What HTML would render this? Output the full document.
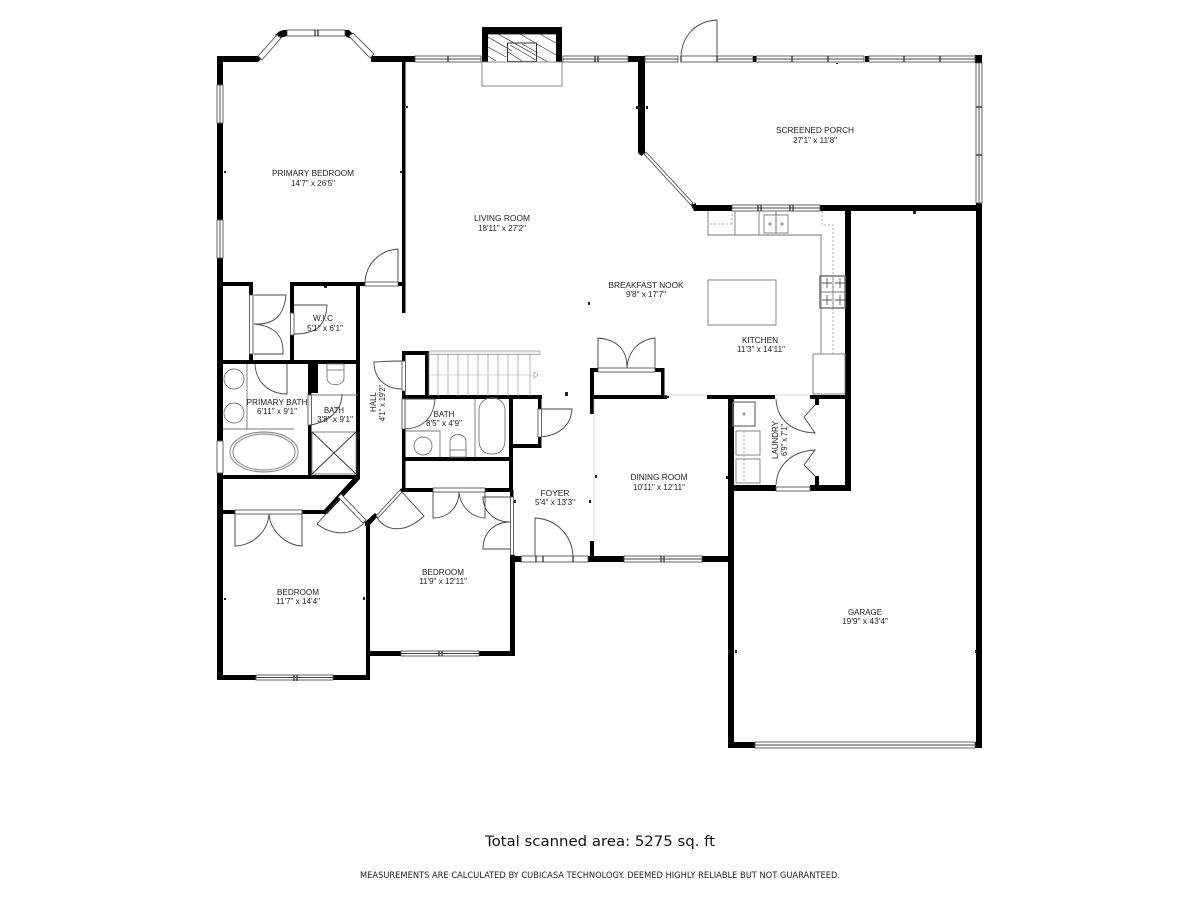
<!DOCTYPE html>
<html><head><meta charset="utf-8"><style>
html,body{margin:0;padding:0;background:#fff}
svg{display:block;filter:blur(.3px)}
.k{fill:#000}
.w{fill:#fff;stroke:#555;stroke-width:.9}
.l{stroke:#999;stroke-width:.7;fill:none}
.g{stroke:#444;stroke-width:.9;fill:none}
.gd{stroke:#777;stroke-width:.9;fill:none}
.d{stroke:#999;stroke-width:.8;fill:none;stroke-dasharray:2 2}
.h{stroke:#333;stroke-width:.7;fill:none}
text{font-family:"Liberation Sans",sans-serif;fill:#222;text-anchor:middle}
.n{font-size:8.500px}
.s{font-size:8px}
</style></head><body>
<svg width="1200" height="900" viewBox="0 0 1200 900" xmlns="http://www.w3.org/2000/svg">
<rect width="1200" height="900" fill="#fff"/>

<!-- black walls -->
<g class="k">
<rect x="217" y="56" width="6" height="624"/>
<rect x="217" y="56" width="41" height="6"/>
<polygon points="258,56 262,58 258,62"/>
<rect x="371" y="56" width="44" height="6"/>
<rect x="402" y="62" width="3.500" height="251"/>
<polygon points="280,31 284,30 287,30 287,36 280,38 275,35"/>
<polygon points="345,30 349,30 354,35 349,38 345,36"/>
<!-- fireplace -->
<path d="M482,27h80v35h-6v-28h-68v28h-6z"/>
<rect x="628" y="56" width="17" height="6"/>
<rect x="638" y="62" width="7" height="91"/>
<polygon points="638,153 641.500,156 645,153"/>
<rect x="975" y="55" width="7" height="8"/>
<polygon points="691,205 696,203 696,211 694,211"/>
<rect x="695" y="205" width="37" height="6"/>
<rect x="820" y="205" width="162" height="6"/>
<rect x="845" y="211" width="6" height="280"/>
<rect x="976" y="203" width="6" height="545"/>
<rect x="728" y="395" width="6" height="353"/>
<rect x="728" y="742" width="27" height="6"/>
<rect x="975" y="742" width="7" height="6"/>
<!-- laundry -->
<rect x="707" y="395" width="68" height="4"/>
<rect x="810" y="395" width="41" height="4"/>
<rect x="734" y="485" width="42" height="6"/>
<rect x="810" y="485" width="41" height="6"/>
<rect x="815" y="399" width="4" height="6"/>
<rect x="815" y="476" width="4" height="9"/>
<!-- dining -->
<rect x="590" y="368" width="4" height="46"/>
<rect x="590" y="368" width="8" height="4"/>
<rect x="655" y="368" width="9" height="4"/>
<rect x="661" y="368" width="3.500" height="31"/>
<rect x="590" y="395" width="77" height="4"/>
<rect x="590" y="541" width="4" height="21"/>
<rect x="588" y="556" width="36" height="6"/>
<rect x="702" y="556" width="26" height="6"/>
<!-- stairs block / bath -->
<rect x="402" y="351" width="27" height="4"/>
<rect x="425" y="351" width="4" height="45"/>
<rect x="402" y="351" width="3.500" height="10"/>
<rect x="402" y="391" width="3.500" height="100"/>
<rect x="402" y="395" width="140" height="4"/>
<rect x="509" y="395" width="4" height="95"/>
<rect x="538" y="395" width="3.500" height="14"/>
<rect x="538" y="437" width="3.500" height="11"/>
<rect x="510" y="444" width="31" height="4"/>
<rect x="402" y="457" width="110" height="4"/>
<rect x="402" y="488" width="31" height="4"/>
<rect x="485" y="488" width="28" height="4"/>
<rect x="510" y="490" width="3.500" height="7"/>
<rect x="510" y="555" width="5" height="100"/>
<rect x="515" y="556" width="6" height="6"/>
<rect x="369" y="651" width="32" height="5"/>
<rect x="479" y="651" width="36" height="5"/>
<rect x="366" y="523" width="4" height="157"/>
<rect x="217" y="675" width="39" height="5"/>
<rect x="333" y="675" width="37" height="5"/>
<rect x="223" y="510" width="12" height="4"/>
<rect x="302" y="510" width="24" height="4"/>
<polygon points="324,510 356,475 360,475 360,479 327,514 324,514"/>
<polygon points="365,522 375,513 378,516 369,526 365,526"/>
<polygon points="400,489 403,488 403,492 400,492"/>
<!-- primary suite -->
<rect x="223" y="282" width="30" height="4"/>
<rect x="249" y="282" width="4" height="13"/>
<rect x="249" y="354" width="4" height="10"/>
<rect x="223" y="360" width="137" height="4"/>
<rect x="290" y="282" width="4" height="31"/>
<rect x="290" y="335" width="4" height="27"/>
<rect x="290" y="282" width="75" height="4"/>
<rect x="356" y="282" width="4" height="197"/>
<rect x="398" y="282" width="7" height="4"/>
<rect x="308" y="364" width="10" height="29"/>
<rect x="308" y="393" width="3.500" height="2"/>
<rect x="308" y="425" width="3.500" height="54"/>
<rect x="217" y="475" width="143" height="4"/>
</g>

<!-- windows -->
<g class="w">
<polygon points="258,56 277,35 281,38 262,60"/>
<rect x="287" y="30" width="58" height="6"/>
<polygon points="349,36 353,33 374,54 370,58"/>
<rect x="415" y="56" width="66" height="6"/>
<rect x="563" y="56" width="65" height="6"/>
<rect x="645" y="56" width="33" height="6"/>
<rect x="681" y="56" width="36" height="6"/>
<rect x="717" y="56" width="36" height="6"/>
<rect x="756" y="56" width="36" height="6"/>
<rect x="792" y="56" width="36" height="6"/>
<rect x="828" y="56" width="36" height="6"/>
<rect x="869" y="56" width="35" height="6"/>
<rect x="904" y="56" width="36" height="6"/>
<rect x="940" y="56" width="35" height="6"/>
<rect x="976" y="63" width="6" height="140"/>
<rect x="217" y="85" width="6" height="38"/>
<rect x="217" y="220" width="6" height="38"/>
<rect x="217" y="441" width="6" height="32"/>
<rect x="732" y="205" width="88" height="6"/>
<rect x="755" y="742" width="220" height="6"/>
<rect x="624" y="556" width="78" height="6"/>
<rect x="521" y="556" width="67" height="6"/>
<rect x="401" y="651" width="78" height="5"/>
<rect x="256" y="675" width="77" height="5"/>
<polygon points="644,154 646,152 693,203 691,205"/>
<polygon points="338,497 341,494 366,520 363,523"/>
<polygon points="376,516 400,490 402,492 378,518"/>
<rect x="235" y="510" width="67" height="4"/>
<rect x="433" y="488" width="52" height="4"/>
<rect x="510.500" y="497" width="3" height="58"/>
<rect x="365" y="282" width="33" height="4"/>
<rect x="249.500" y="295" width="3.500" height="59"/>
<rect x="290.500" y="313" width="3.500" height="22"/>
<rect x="308" y="395" width="3.500" height="30"/>
<rect x="402" y="361" width="3.500" height="30"/>
<rect x="402" y="399" width="3" height="30"/>
<rect x="538" y="409" width="3.500" height="28"/>
<rect x="598" y="368" width="57" height="4"/>
<rect x="776" y="487" width="34" height="4"/>
</g>
<rect x="753" y="56" width="3.500" height="6" fill="#000"/>
<rect x="865" y="56" width="3.500" height="6" fill="#000"/>
<g stroke="#222" stroke-width="1.200" fill="none">
<path d="M315,30v6M318,30v6M448,56v6M595,56v6M598,56v6M681,56v6M717,56v6M792,56v6M828,56v6M904,56v6M940,56v6"/>
<path d="M976,107h6M976,155h6M758,205v6M761,205v6M790,205v6M793,205v6M661,556v6M664,556v6M536,556v6M573,556v6M543,556v6M521,556v6M294,675v6M297,675v6M439,651v5M442,651v5"/>
</g>
<g class="g" stroke-width=".7">
<path d="M415,59h66M563,59h65M645,59h33M717,59h36M756,59h36M792,59h36M828,59h36M869,59h35M904,59h36M940,59h35M979,63v140M220,85v38M220,220v38M732,208h88M755,745h220M624,559h78M401,653.500h78M256,677.500h77"/>
</g>

<!-- fireplace detail -->
<rect x="488" y="34" width="68" height="28" fill="#fff"/>
<g class="h">
<path d="M488,37l24,14M488,47l18,10M488,56l8,5M498,34l50,28M520,34l36,21M540,34l16,9M510,45l26,15M508,52l14,9M522,44l16,9"/>
<rect x="507.500" y="43" width="29" height="18.500" stroke-width="1"/>
<path d="M488,34h68" stroke="#000"/>
</g>
<rect x="482" y="62" width="80" height="24" fill="#fff" stroke="#888" stroke-width="1"/>

<!-- doors -->
<g class="g">
<path d="M717,56V20C695,21 682,37 681,56"/>
<path d="M398,282V249C380,250 366,264 365,282"/>
<path d="M254,295h32C284,315 275,325 254,324C275,326 284,336 283,354H254"/>
<path d="M294,334C317,334 326,325 327,305H294"/>
<path d="M255,364C256,384 271,394 287,394V364"/>
<path d="M342,394C342,410 330,421 311,425"/>
<path d="M402,361C392,361 374,362 374,362C374,380 387,389 402,389"/>
<path d="M405,429C425,428 434,415 435,399H405"/>
<path d="M541,409H572C571,425 560,435 541,437"/>
<path d="M235,514v32C255,545 268,530 269,514C270,530 285,545 302,546V514"/>
<path d="M340,498L317,524C333,536 352,536 365,522"/>
<path d="M376,516C385,532 405,534 424,516L400,490"/>
<path d="M433,492V518C450,518 459,505 459,492C460,505 470,517 485,518V492"/>
<path d="M510,497H483C483,512 495,522 510,522C495,522 483,532 483,549H510"/>
<path d="M535,556V518C556,519 572,535 573,556"/>
<path d="M598,368V338C620,340 627,352 627,368C628,352 638,340 655,338V368"/>
<path d="M776,399C777,420 792,432 815,433L804,417L815,405"/>
<path d="M776,485C777,465 792,451 815,450L804,465L815,476"/>
</g>

<!-- stairs -->
<g class="l">
<rect x="429" y="351" width="111" height="3.500" fill="#eee"/>
<path d="M429,354v42M438,354v42M448,354v42M458,354v42M468,354v42M478,354v42M488,354v42M498,354v42M508,354v42M518,354v42M530,354v42"/>
<path d="M429,375h105" stroke="#ccc"/>
<path d="M534,372l4,3l-4,3z"/>
<path d="M594,399V541M664,395H706M775,395h35" stroke="#ccc"/>
</g>

<!-- kitchen -->
<g class="gd">
<path d="M708,211V235H821V354"/>
<path d="M735,211V235M759,211V235"/>
<rect x="708" y="280" width="68" height="45"/>
<rect x="764" y="215" width="12" height="18"/>
<rect x="776" y="215" width="12" height="18"/>
<circle cx="770" cy="224" r="1"/><circle cx="782" cy="224" r="1"/>
<path d="M776,211v4"/>
<rect x="813" y="354" width="32" height="40"/>
<rect x="820" y="276" width="25" height="32" stroke-width="1.500"/>
<path d="M820,292h25M833,276v32" />
<path d="M822,283h10M835,283h10M827,278v10M840,278v10M822,300h10M835,300h10M827,295v10M840,295v10" stroke="#555"/>
</g>
<g class="d">
<path d="M710,224h22M732,224V212M822,211v14h11v129"/>
</g>

<!-- laundry fixtures -->
<g class="gd">
<rect x="733" y="402" width="22" height="24" stroke-width="1.300"/>
<circle cx="744" cy="414" r="1"/>
<rect x="736" y="431" width="24" height="24"/>
<rect x="736" y="459" width="24" height="24"/>
</g>
<path d="M744,431v52" class="d"/>

<!-- bath fixtures -->
<g class="gd">
<path d="M247,364V429H294M223,429H294"/>
<circle cx="234" cy="379" r="10"/>
<circle cx="234" cy="413" r="10"/>
<ellipse cx="264" cy="452" rx="34" ry="20"/>
<ellipse cx="264" cy="452" rx="31" ry="18"/>
<rect x="327" y="364" width="17" height="6"/>
<path d="M327,370v8c0,9 17,9 17,0v-8"/>
<path d="M311,395h47"/>
<rect x="312" y="432" width="44" height="42"/>
<path d="M312,432l44,42M356,432l-44,42" stroke="#333"/>
<path d="M405,431H440V457"/>
<circle cx="423" cy="446" r="9"/>
<rect x="450" y="450" width="16" height="7"/>
<path d="M450,450v-8c0-10 16-10 16,0v8"/>
<path d="M475,399V457"/>
<path d="M479,410c0-16 26-16 26,0v30c0,12-8,14-13,14s-13-2-13-14z"/>
</g>

<!-- small markers -->
<g fill="#222">
<rect x="406" y="106" width="2" height="2"/><rect x="400" y="171" width="2" height="2"/>
<rect x="224" y="171" width="2" height="2"/><rect x="636" y="106" width="4" height="3"/>
<rect x="646" y="106" width="2" height="3"/><rect x="913" y="211" width="3" height="3"/>
<rect x="836" y="63" width="2" height="1"/>
<rect x="565" y="392" width="3" height="4"/><rect x="588" y="302" width="2" height="3"/>
<rect x="595" y="475" width="2" height="3"/><rect x="726" y="476" width="2" height="3"/>
<rect x="735" y="650" width="2" height="3"/><rect x="975" y="650" width="2" height="3"/>
<rect x="224" y="598" width="2" height="2"/>
<rect x="363" y="597" width="2" height="3"/>
<rect x="324" y="286" width="3" height="2"/>
<rect x="589" y="500" width="2" height="3"/><rect x="514" y="500" width="2" height="3"/>
<rect x="664" y="396" width="5" height="2"/>
</g>

<!-- labels -->
<text class="n" x="313" y="176" textLength="82" lengthAdjust="spacingAndGlyphs">PRIMARY BEDROOM</text>
<text class="s" x="313" y="186" textLength="44" lengthAdjust="spacingAndGlyphs">14'7" x 26'5"</text>
<text class="n" x="502" y="221" textLength="56" lengthAdjust="spacingAndGlyphs">LIVING ROOM</text>
<text class="s" x="502" y="231" textLength="48" lengthAdjust="spacingAndGlyphs">18'11" x 27'2"</text>
<text class="n" x="815" y="133" textLength="78" lengthAdjust="spacingAndGlyphs">SCREENED PORCH</text>
<text class="s" x="815" y="143" textLength="44" lengthAdjust="spacingAndGlyphs">27'1" x 11'8"</text>
<text class="n" x="646" y="288" textLength="75" lengthAdjust="spacingAndGlyphs">BREAKFAST NOOK</text>
<text class="s" x="646" y="297" textLength="40" lengthAdjust="spacingAndGlyphs">9'8" x 17'7"</text>
<text class="n" x="760" y="343" textLength="36" lengthAdjust="spacingAndGlyphs">KITCHEN</text>
<text class="s" x="761" y="352" textLength="48" lengthAdjust="spacingAndGlyphs">11'3" x 14'11"</text>
<text class="n" x="323" y="321" textLength="20" lengthAdjust="spacingAndGlyphs">W.I.C</text>
<text class="s" x="325" y="331" textLength="36" lengthAdjust="spacingAndGlyphs">5'1" x 6'1"</text>
<text class="n" x="277" y="405" textLength="61" lengthAdjust="spacingAndGlyphs">PRIMARY BATH</text>
<text class="s" x="277" y="414" textLength="40" lengthAdjust="spacingAndGlyphs">6'11" x 9'1"</text>
<text class="n" x="334" y="413" textLength="20" lengthAdjust="spacingAndGlyphs">BATH</text>
<text class="s" x="335" y="422" textLength="36" lengthAdjust="spacingAndGlyphs">3'8" x 9'1"</text>
<text class="n" x="444" y="417" textLength="21" lengthAdjust="spacingAndGlyphs">BATH</text>
<text class="s" x="444" y="426" textLength="36" lengthAdjust="spacingAndGlyphs">8'5" x 4'9"</text>
<text class="n" transform="translate(376,402) rotate(-90)" textLength="20" lengthAdjust="spacingAndGlyphs">HALL</text>
<text class="s" transform="translate(385,403) rotate(-90)" textLength="36" lengthAdjust="spacingAndGlyphs">4'1" x 19'2"</text>
<text class="n" x="555" y="496" textLength="29" lengthAdjust="spacingAndGlyphs">FOYER</text>
<text class="s" x="555" y="505" textLength="40" lengthAdjust="spacingAndGlyphs">5'4" x 13'3"</text>
<text class="n" x="659" y="480" textLength="57" lengthAdjust="spacingAndGlyphs">DINING ROOM</text>
<text class="s" x="659" y="490" textLength="52" lengthAdjust="spacingAndGlyphs">10'11" x 12'11"</text>
<text class="n" transform="translate(778,440) rotate(-90)" textLength="38" lengthAdjust="spacingAndGlyphs">LAUNDRY</text>
<text class="s" transform="translate(787,440) rotate(-90)" textLength="32" lengthAdjust="spacingAndGlyphs">6'9" x 7'1"</text>
<text class="n" x="298" y="595" textLength="42" lengthAdjust="spacingAndGlyphs">BEDROOM</text>
<text class="s" x="298" y="604" textLength="44" lengthAdjust="spacingAndGlyphs">11'7" x 14'4"</text>
<text class="n" x="443" y="575" textLength="42" lengthAdjust="spacingAndGlyphs">BEDROOM</text>
<text class="s" x="443" y="584" textLength="48" lengthAdjust="spacingAndGlyphs">11'9" x 12'11"</text>
<text class="n" x="865" y="615" textLength="34" lengthAdjust="spacingAndGlyphs">GARAGE</text>
<text class="s" x="865" y="624" textLength="46" lengthAdjust="spacingAndGlyphs">19'9" x 43'4"</text>

<text x="600" y="846" style="font-family:'DejaVu Sans',sans-serif;font-size:14px;fill:#111" textLength="230" lengthAdjust="spacingAndGlyphs">Total scanned area: 5275 sq. ft</text>
<text x="600" y="878" style="font-family:'DejaVu Sans',sans-serif;font-size:8.500px;fill:#222" textLength="480" lengthAdjust="spacingAndGlyphs">MEASUREMENTS ARE CALCULATED BY CUBICASA TECHNOLOGY. DEEMED HIGHLY RELIABLE BUT NOT GUARANTEED.</text>
</svg>
</body></html>
